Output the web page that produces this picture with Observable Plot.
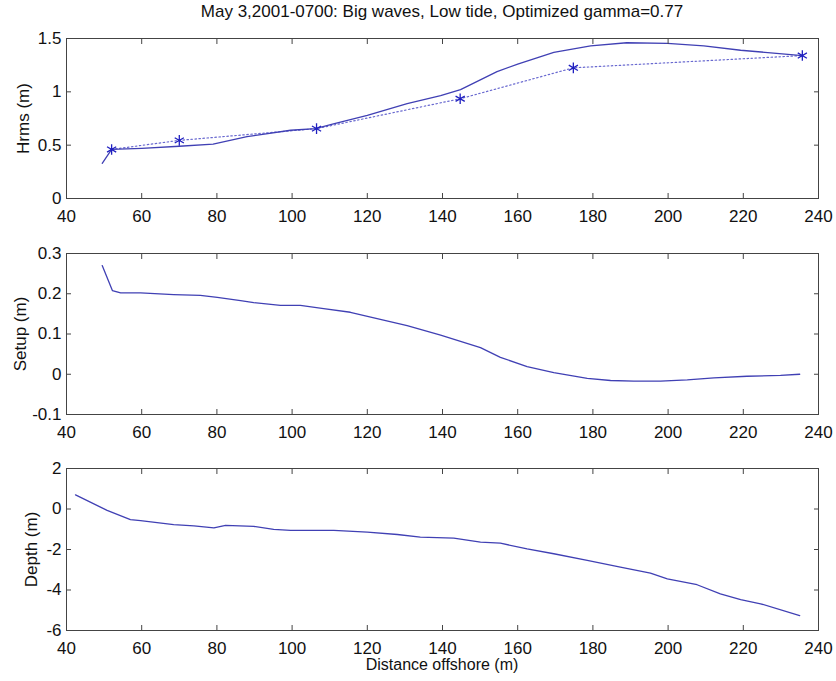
<!DOCTYPE html>
<html><head><meta charset="utf-8">
<script src="https://cdn.jsdelivr.net/npm/d3@7"></script>
<script src="https://cdn.jsdelivr.net/npm/@observablehq/plot@0.6"></script>
<style>
body{margin:0;background:#fff;font-family:"Liberation Sans",Arial,sans-serif;}
#wrap{position:relative;width:836px;height:681px;}
#wrap svg{position:absolute;left:0;z-index:1;}
#title{position:absolute;left:66px;width:752px;top:2px;text-align:center;font-size:17px;line-height:20px;color:#111;z-index:5;}
#xlab{position:absolute;left:66px;width:752px;top:656px;text-align:center;font-size:16px;line-height:18px;color:#111;z-index:5;}
</style></head>
<body><div id="wrap">
<div id="title">May 3,2001-0700: Big waves, Low tide, Optimized gamma=0.77</div>
<div id="xlab">Distance offshore (m)</div>
</div>
<script>
// ---- data ----
const xTicks = [40, 60, 80, 100, 120, 140, 160, 180, 200, 220, 240];

// Panel 1: Hrms model (solid)
const hrmsModelX = [49.5, 52, 60, 70, 79, 88, 99.6, 106.2, 111, 120, 130.6, 139.5, 144.8, 154.5, 160, 169.6, 179.4, 189, 199.8, 209.5, 219.3, 235.7];
const hrmsModelY = [0.33, 0.46, 0.47, 0.49, 0.51, 0.58, 0.64, 0.655, 0.70, 0.78, 0.89, 0.965, 1.02, 1.19, 1.26, 1.37, 1.43, 1.46, 1.455, 1.43, 1.39, 1.34];
// Panel 1: Hrms measured (dotted with asterisks)
const hrmsObsX = [52, 70, 106.5, 144.7, 174.8, 235.7];
const hrmsObsY = [0.46, 0.545, 0.655, 0.935, 1.225, 1.34];
const hrmsTicks = [0, 0.5, 1, 1.5];

// Panel 2: Setup
const setupX = [49.5, 52.2, 54.4, 59.7, 68.5, 75.6, 80.1, 86.3, 89.8, 96.9, 102.2, 108.4, 115.5, 120.9, 130.6, 139.5, 150.1, 155.4, 162.5, 169.6, 178.5, 184.7, 190.9, 198, 205.1, 212.2, 221, 229.9, 235];
const setupY = [0.27, 0.208, 0.202, 0.202, 0.198, 0.196, 0.191, 0.183, 0.178, 0.171, 0.171, 0.163, 0.154, 0.142, 0.121, 0.097, 0.066, 0.042, 0.019, 0.004, -0.01, -0.0155, -0.017, -0.017, -0.014, -0.009, -0.005, -0.003, 0.0];
const setupTicks = [-0.1, 0, 0.1, 0.2, 0.3];

// Panel 3: Depth
const depthX = [42.4, 50.8, 57, 59.7, 68.5, 73.9, 79.2, 82.3, 89.8, 95.1, 99.6, 111.1, 120, 128, 134.1, 143, 150.1, 155.4, 162.5, 169.6, 178.5, 187.3, 195.3, 199.8, 207.7, 213.9, 219.3, 224.6, 235];
const depthY = [0.70, -0.07, -0.52, -0.57, -0.77, -0.83, -0.93, -0.81, -0.86, -1.01, -1.06, -1.06, -1.14, -1.26, -1.39, -1.44, -1.64, -1.69, -1.97, -2.21, -2.54, -2.87, -3.17, -3.45, -3.74, -4.19, -4.48, -4.68, -5.26];
const depthTicks = [-6, -4, -2, 0, 2];

// ---- drawing ----
const zip = (xs, ys) => xs.map((x, i) => ({x, y: ys[i]}));
const LINE = "#4040b4";
const FONT = "Liberation Sans, Arial, sans-serif";

function panel({top, height, marginTop, marginBottom, yDomain, yTicks, label, labelOffset, marks}) {
  const svg = Plot.plot({
    width: 836, height, marginLeft: 66, marginRight: 18, marginTop, marginBottom,
    style: {fontFamily: FONT, fontSize: "17px", color: "#111", background: "transparent", overflow: "visible"},
    x: {domain: [40, 240]},
    y: {domain: yDomain},
    marks: [
      ...marks,
      Plot.frame({stroke: "#444", strokeWidth: 1}),
      Plot.axisX(xTicks, {anchor: "bottom", tickSize: -5, tickPadding: 16, tickFormat: d => String(d), label: null, stroke: "#444"}),
      Plot.axisX(xTicks, {anchor: "top", tickSize: -5, tickFormat: () => "", label: null, stroke: "#444"}),
      Plot.axisY(yTicks, {anchor: "left", tickSize: -5, tickPadding: 10, tickFormat: d => String(d), label, labelAnchor: "center", labelArrow: "none", labelOffset, stroke: "#444"}),
      Plot.axisY(yTicks, {anchor: "right", tickSize: -5, tickFormat: () => "", label: null, stroke: "#444"})
    ]
  });
  svg.style.top = top + "px";
  document.getElementById("wrap").appendChild(svg);
}

panel({
  top: 0, height: 225, marginTop: 38, marginBottom: 27,
  yDomain: [0, 1.5], yTicks: hrmsTicks, label: "Hrms (m)", labelOffset: 50,
  marks: [
    Plot.line(zip(hrmsObsX, hrmsObsY), {x: "x", y: "y", stroke: "#6a6ad0", strokeWidth: 1.2, strokeDasharray: "1.5,2.5"}),
    Plot.line(zip(hrmsModelX, hrmsModelY), {x: "x", y: "y", stroke: LINE, strokeWidth: 1.3}),
    Plot.dot(zip(hrmsObsX, hrmsObsY), {x: "x", y: "y", symbol: "asterisk", r: 5, stroke: "#2020c0", strokeWidth: 1.3})
  ]
});

panel({
  top: 225, height: 215, marginTop: 28, marginBottom: 26,
  yDomain: [-0.1, 0.3], yTicks: setupTicks, label: "Setup (m)", labelOffset: 53,
  marks: [
    Plot.line(zip(setupX, setupY), {x: "x", y: "y", stroke: LINE, strokeWidth: 1.3})
  ]
});

panel({
  top: 440, height: 241, marginTop: 28, marginBottom: 51,
  yDomain: [-6, 2], yTicks: depthTicks, label: "Depth (m)", labelOffset: 42,
  marks: [
    Plot.line(zip(depthX, depthY), {x: "x", y: "y", stroke: LINE, strokeWidth: 1.3})
  ]
});
</script>
</body></html>
